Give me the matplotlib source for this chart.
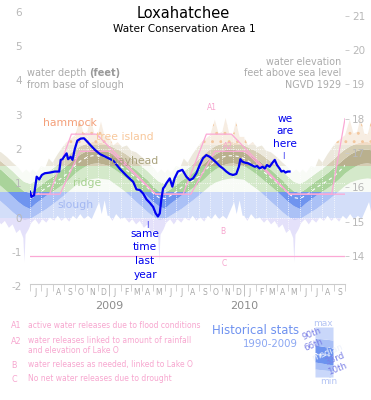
import numpy as np
import pandas as pd
import matplotlib
matplotlib.use('Agg')
import matplotlib.pyplot as plt
import matplotlib.dates as mdates
from matplotlib.patches import Rectangle

plt.rcParams['font.family'] = ['DejaVu Sans']
plt.rcParams['axes.unicode_minus'] = False
plt.rcParams['hatch.linewidth'] = 0.9

# ---- historical stats 1990-2009, water depth (ft) on the 1st / 16th of each month
clim_days = ['01-01', '01-16', '02-01', '02-15', '03-01', '03-16', '04-01', '04-16',
             '05-01', '05-16', '06-01', '06-16', '07-01', '07-16', '08-01', '08-16',
             '09-01', '09-16', '10-01', '10-16', '11-01', '11-16', '12-01', '12-16']
p90 = [2.10, 2.02, 1.94, 1.85, 1.74, 1.62, 1.48, 1.34, 1.18, 1.04, 0.98, 1.06,
       1.18, 1.30, 1.42, 1.55, 1.70, 1.85, 1.98, 2.08, 2.15, 2.20, 2.20, 2.16]
p66 = [1.90, 1.82, 1.72, 1.62, 1.50, 1.38, 1.22, 1.08, 0.90, 0.76, 0.72, 0.82,
       0.95, 1.07, 1.18, 1.30, 1.45, 1.58, 1.72, 1.84, 1.93, 1.98, 1.98, 1.95]
median = [1.72, 1.62, 1.50, 1.40, 1.28, 1.15, 1.00, 0.86, 0.70, 0.58, 0.55, 0.64,
          0.75, 0.88, 0.98, 1.08, 1.20, 1.35, 1.52, 1.65, 1.75, 1.80, 1.80, 1.78]
p33 = [1.50, 1.40, 1.28, 1.16, 1.03, 0.90, 0.75, 0.60, 0.45, 0.33, 0.25, 0.40,
       0.52, 0.64, 0.75, 0.86, 0.98, 1.12, 1.28, 1.40, 1.50, 1.56, 1.58, 1.55]
p10 = [1.10, 0.98, 0.86, 0.74, 0.60, 0.45, 0.30, 0.15, 0.02, -0.08, -0.05, 0.05,
       0.15, 0.25, 0.38, 0.50, 0.64, 0.78, 0.92, 1.02, 1.08, 1.12, 1.14, 1.12]

max_days = ['01-01', '01-12', '01-24', '02-05', '02-18', '03-01', '03-15', '04-01',
            '04-15', '05-01', '05-12', '05-22', '06-01', '06-08', '06-18', '07-01',
            '07-12', '07-22', '08-01', '08-15', '08-28', '09-08', '09-20', '10-01',
            '10-14', '10-24', '11-03', '11-12', '11-22', '12-01', '12-10', '12-20']
max_vals = [2.35, 2.10, 2.20, 2.05, 2.10, 1.95, 1.90, 1.75, 1.60, 1.45, 1.30, 1.40,
            1.30, 1.40, 1.30, 1.50, 1.45, 1.72, 1.60, 1.85, 2.05, 2.20, 2.30, 2.40,
            2.85, 2.45, 2.50, 2.90, 2.45, 2.40, 2.80, 2.35]

min_days = ['01-01', '01-10', '01-20', '02-01', '02-12', '02-24', '03-05', '03-15',
            '03-25', '04-05', '04-15', '04-25', '05-05', '05-14', '05-17', '05-20',
            '05-28', '06-05', '06-15', '06-25', '07-05', '07-15', '07-25', '08-05',
            '08-15', '08-25', '09-05', '09-15', '09-25', '10-05', '10-15', '10-25',
            '11-05', '11-15', '11-25', '12-05', '12-12', '12-20', '12-28']
min_vals = [0.05, -0.10, 0.10, -0.05, 0.00, -0.15, -0.05, -0.20, -0.10, -0.30,
            -0.20, -0.45, -0.35, -0.60, -1.30, -0.50, -0.35, -0.15, -0.05, -0.20,
            -0.05, -0.15, 0.00, -0.10, 0.05, -0.10, 0.00, -0.12, 0.05, -0.05,
            0.10, -0.05, 0.05, -0.05, 0.20, 0.45, 0.10, 0.50, 0.05]

# ---- observed water depth (ft)
obs_dates = ['2008-06-01', '2008-06-05', '2008-06-12', '2008-06-19', '2008-06-26',
             '2008-07-03', '2008-07-11', '2008-07-25', '2008-08-07', '2008-08-19',
             '2008-08-23', '2008-08-28', '2008-09-01', '2008-09-08', '2008-09-12',
             '2008-09-19', '2008-09-24', '2008-09-30', '2008-10-07', '2008-10-16',
             '2008-10-25', '2008-11-03', '2008-11-15', '2008-11-24', '2008-12-07',
             '2008-12-26', '2009-01-12', '2009-01-30', '2009-02-17', '2009-03-07',
             '2009-03-16', '2009-03-25', '2009-04-03', '2009-04-12', '2009-04-21',
             '2009-04-30', '2009-05-07', '2009-05-13', '2009-05-18', '2009-05-22',
             '2009-05-27', '2009-05-31', '2009-06-05', '2009-06-14', '2009-06-21',
             '2009-06-27', '2009-07-06', '2009-07-18', '2009-07-29', '2009-08-07',
             '2009-08-16', '2009-08-25', '2009-09-03', '2009-09-12', '2009-09-21',
             '2009-09-30', '2009-10-09', '2009-10-18', '2009-10-27', '2009-11-05',
             '2009-11-14', '2009-11-23', '2009-12-02', '2009-12-11', '2009-12-18',
             '2009-12-22', '2009-12-27', '2010-01-03', '2010-01-12', '2010-01-21',
             '2010-01-30', '2010-02-05', '2010-02-12', '2010-02-20', '2010-02-26',
             '2010-03-04', '2010-03-11', '2010-03-19', '2010-03-25', '2010-03-31',
             '2010-04-07', '2010-04-12', '2010-04-18', '2010-04-23', '2010-04-29',
             '2010-05-04']
obs_depth = [0.75, 0.60, 0.65, 1.19, 1.11, 1.24, 1.29, 1.31, 1.34, 1.34,
             1.68, 1.70, 1.77, 1.87, 1.70, 1.77, 1.68, 1.99, 2.24, 2.30,
             2.31, 2.21, 2.07, 1.97, 1.85, 1.75, 1.66, 1.42, 1.22, 1.04,
             0.82, 0.80, 0.70, 0.53, 0.43, 0.31, 0.12, 0.03, 0.12, 0.51,
             0.85, 0.90, 1.00, 1.14, 0.90, 1.14, 1.34, 1.39, 1.19, 1.09,
             1.14, 1.29, 1.53, 1.73, 1.82, 1.77, 1.69, 1.60, 1.50, 1.43,
             1.34, 1.27, 1.24, 1.27, 1.48, 1.70, 1.63, 1.60, 1.58, 1.53,
             1.48, 1.50, 1.43, 1.48, 1.43, 1.53, 1.48, 1.60, 1.68, 1.53,
             1.43, 1.34, 1.36, 1.31, 1.34, 1.34]

# ---- regulation schedule, ft NGVD 1929
upper_dates = ['2008-06-01', '2008-07-24', '2008-09-21', '2008-11-28', '2009-05-07',
               '2009-07-20', '2009-09-21', '2009-11-28', '2010-05-04', '2010-08-26',
               '2010-10-01']
upper_elev = [15.8, 15.8, 17.55, 17.55, 15.8, 15.8, 17.55, 17.55, 15.8, 15.8, 18.0]
lower_dates = ['2008-06-01', '2008-08-21', '2008-10-14', '2009-01-04', '2009-05-07',
               '2009-08-10', '2009-10-14', '2010-01-04', '2010-05-04', '2010-10-01']
lower_elev = [15.8, 15.8, 17.05, 17.05, 15.8, 15.8, 17.05, 17.05, 15.8, 15.8]
drought_elev = 14.0

slough_base = 15.12  # elevation of depth 0

# zones: (bottom, top, [light, mid, dark], hatch)
zones = [(-5.0, 0.0, ['#e4e1fa', '#d2d0f7', '#bcbcf3'], None),
         (0.0, 0.75, ['#d3def9', '#abc1f6', '#6f94ef'], None),
         (0.75, 1.5, ['#f8fbf6', '#d4e9ca', '#a9d39a'], None),
         (1.5, 2.1, ['#ece8dc', '#d5cdb3', '#b9b08e'], None),
         (2.1, 6.0, ['#f7ede2', '#f1dcc6', '#e7c8a8'], '..')]

W, H = 371, 400


def fx(x):
    return x / W


def fy(y):
    return 1 - y / H


def yearly(days, vals, years=(2008, 2009, 2010)):
    x = mdates.date2num(pd.to_datetime([f'{yr}-{d}' for yr in years for d in days]))
    return x, np.tile(np.asarray(vals, float), len(years))


def dnum(dates):
    return mdates.date2num(pd.to_datetime(dates))


fig = plt.figure(figsize=(3.71, 4.0), dpi=100)
ax = fig.add_axes([fx(30), fy(286.1), 315 / W, 274.4 / H])

x0, x1 = dnum(['2008-06-01', '2010-10-01'])
curves = {
    'min': yearly(min_days, min_vals),
    'p10': yearly(clim_days, p10),
    'p33': yearly(clim_days, p33),
    'p66': yearly(clim_days, p66),
    'p90': yearly(clim_days, p90),
    'max': yearly(max_days, max_vals),
}
bands = [('min', 'p10', 0), ('p10', 'p33', 1), ('p33', 'p66', 2),
         ('p66', 'p90', 1), ('p90', 'max', 0)]

for lo, hi, shade in bands:
    xl, yl = curves[lo]
    xh, yh = curves[hi]
    px = np.r_[xh, xl[::-1]]
    py = np.r_[yh, yl[::-1]]
    for z0, z1, cols, hatch in zones:
        if hatch:
            patch = ax.fill(px, py, facecolor=cols[shade], edgecolor='#f3c79e',
                            hatch=hatch, lw=0, zorder=1)[0]
        else:
            patch = ax.fill(px, py, color=cols[shade], lw=0, zorder=1)[0]
        clip = Rectangle((x0 - 400, z0), x1 - x0 + 800, z1 - z0, transform=ax.transData)
        patch.set_clip_path(clip)

# median
xm, ym = yearly(clim_days, median)
ax.plot(xm, ym, color='white', lw=0.8, ls=(0, (3, 3)), zorder=2)

# white dotted grid
months = pd.date_range('2008-06-01', '2010-10-01', freq='MS')
ax.vlines(mdates.date2num(months), -1.5, 3.2, color='white', lw=0.6, ls=':', zorder=2.5)
ax.hlines([0, 1, 2], x0, x1, color='white', lw=0.6, ls=':', zorder=2.5)

# regulation schedule lines
pink = '#fba8d5'
ax.plot(dnum(upper_dates), np.array(upper_elev) - slough_base, color=pink, lw=0.9, zorder=3)
ax.plot(dnum(lower_dates), np.array(lower_elev) - slough_base, color=pink, lw=0.9, zorder=3)
ax.axhline(drought_elev - slough_base, color=pink, lw=0.9, zorder=3)

# observed
ax.plot(dnum(obs_dates), obs_depth, color='#0000f0', lw=1.6, zorder=4)

ax.set_xlim(x0, x1)
ax.set_ylim(-2, 6)
for s in ['top', 'left', 'right']:
    ax.spines[s].set_visible(False)
ax.spines['bottom'].set_position(('data', -1.93))
ax.spines['bottom'].set_color('#cccccc')
ax.set_yticks(range(-2, 7))
ax.tick_params(axis='y', length=0, pad=6, labelsize=7.5, labelcolor='#b8b8b8')

ax.xaxis.set_major_locator(mdates.MonthLocator())
ax.xaxis.set_major_formatter(plt.NullFormatter())
ax.xaxis.set_minor_locator(mdates.MonthLocator(bymonthday=16))
ax.xaxis.set_minor_formatter(plt.FuncFormatter(lambda v, p: mdates.num2date(v).strftime('%b')[0]))
ax.tick_params(axis='x', which='major', length=5, color='#d0d0d0', width=0.7)
ax.tick_params(axis='x', which='minor', length=0, pad=3, labelsize=5.5, labelcolor='#a8a8a8')

years = dnum(['2009-01-01', '2010-01-01'])
ax.vlines(years, -2.3, -1.93, color='#c0c0c0', lw=0.7, clip_on=False)
for xv, lab in zip(years, ['2009', '2010']):
    ax.text(xv, -2.58, lab, ha='center', va='center', fontsize=8, color='#8c8c8c')

ax2 = ax.twinx()
ax2.set_ylim(-2 + slough_base, 6 + slough_base)
ax2.set_yticks(range(14, 22))
for s in ax2.spines.values():
    s.set_visible(False)
ax2.tick_params(axis='y', length=3, width=0.7, color='#cccccc', pad=2,
                labelsize=7.5, labelcolor='#b8b8b8')

# titles and axis captions
fig.text(fx(183), fy(14), 'Loxahatchee', ha='center', va='center', fontsize=10.5)
fig.text(fx(184), fy(29), 'Water Conservation Area 1', ha='center', va='center', fontsize=7.6)

grey = '#ababab'
t1 = fig.text(fx(27), fy(73), 'water depth ', ha='left', va='center', fontsize=7, color=grey)
ax.annotate('(feet)', xy=(1, 0.5), xycoords=t1, ha='left', va='center',
            fontsize=7, color='#999999', fontweight='bold')
fig.text(fx(27), fy(85), 'from base of slough', ha='left', va='center', fontsize=7, color=grey)
fig.text(fx(341), fy(62), 'water elevation', ha='right', va='center', fontsize=6.9, color=grey)
fig.text(fx(341), fy(73.5), 'feet above sea level', ha='right', va='center', fontsize=6.9, color=grey)
fig.text(fx(341), fy(84.5), 'NGVD 1929', ha='right', va='center', fontsize=6.9, color=grey)

# zone names
fig.text(fx(70), fy(122.5), 'hammock', ha='center', va='center', fontsize=7.8, color='#f4a07a')
fig.text(fx(125), fy(137), 'tree island', ha='center', va='center', fontsize=7.8, color='#f8c89c')
fig.text(fx(135), fy(160.5), 'bayhead', ha='center', va='center', fontsize=7.8, color='#a9a27c')
fig.text(fx(87), fy(182.5), 'ridge', ha='center', va='center', fontsize=7.8, color='#a6d190')
fig.text(fx(75), fy(204.5), 'slough', ha='center', va='center', fontsize=7.8, color='#a3b8f2')

# zone letters in the plot
ptxt = '#f7a6cf'
for x, y, s in [(211.5, 108, 'A1'), (228, 146.5, 'A2'), (223, 232, 'B'), (224, 264, 'C')]:
    fig.text(fx(x), fy(y), s, ha='center', va='center', fontsize=5.5, color=ptxt)

# we are here / same time last year
blue = '#0000ee'
for y, s in [(119, 'we'), (131.5, 'are'), (144, 'here')]:
    fig.text(fx(285), fy(y), s, ha='center', va='center', fontsize=7.6, color=blue)
fig.text(fx(283.5), fy(155.5), '|', ha='center', va='center', fontsize=5, color=blue)
for y, s in [(234, 'same'), (247.5, 'time'), (261, 'last'), (274.5, 'year')]:
    fig.text(fx(145), fy(y), s, ha='center', va='center', fontsize=7.6, color=blue)
fig.text(fx(147.5), fy(224), '|', ha='center', va='center', fontsize=5, color=blue)

# schedule key
for y, s in [(325, 'A1'), (342, 'A2'), (365, 'B'), (380, 'C')]:
    fig.text(fx(11), fy(y), s, ha='left', va='center', fontsize=5.8, color=ptxt)
for y, s in [(325, 'active water releases due to flood conditions'),
             (340.5, 'water releases linked to amount of rainfall'),
             (350.5, 'and elevation of Lake O'),
             (364, 'water releases as needed, linked to Lake O'),
             (378.5, 'No net water releases due to drought')]:
    fig.text(fx(28), fy(y), s, ha='left', va='center', fontsize=5.5, color=ptxt)

# historical stats key
fig.text(fx(256), fy(331), 'Historical stats', ha='center', va='center', fontsize=8.4, color='#6f92f0')
fig.text(fx(270), fy(344), '1990-2009', ha='center', va='center', fontsize=7.3, color='#8aa6f2')

kax = fig.add_axes([fx(315), fy(377), 18 / W, 50 / H])
kax.set_xlim(0, 1)
kax.set_ylim(0, 1)
kax.axis('off')
kx = np.array([0, 1])
edges = [np.array([0, 0]), np.array([0.16, 0.12]), np.array([0.30, 0.24]),
         np.array([0.64, 0.58]), np.array([0.78, 0.74]), np.array([1, 1])]
kcols = ['#c9d7fa', '#a8bff6', '#6d93ef', '#a8bff6', '#c9d7fa']
for i, c in enumerate(kcols):
    kax.fill_between(kx, edges[i], edges[i + 1], color=c, lw=0)
kax.plot(kx, [0.47, 0.41], color='white', lw=0.8, ls=(0, (2, 2)))

klab = '#7b80e6'
fig.text(fx(323), fy(323), 'max', ha='center', va='center', fontsize=6.5, color='#b4c4f4')
fig.text(fx(329), fy(382), 'min', ha='center', va='center', fontsize=6.5, color='#b4c4f4')
fig.text(fx(312), fy(333.5), '90th', ha='center', va='center', fontsize=6.3, color=klab, rotation=22)
fig.text(fx(314), fy(345), '66th', ha='center', va='center', fontsize=6.3, color=klab, rotation=22)
fig.text(fx(327), fy(352.5), 'median', ha='center', va='center', fontsize=6.3, color='#eef2fc', rotation=22)
fig.text(fx(335), fy(359), '33rd', ha='center', va='center', fontsize=6.3, color=klab, rotation=22)
fig.text(fx(337), fy(369), '10th', ha='center', va='center', fontsize=6.3, color=klab, rotation=22)

fig.savefig('out.png', dpi=100)
